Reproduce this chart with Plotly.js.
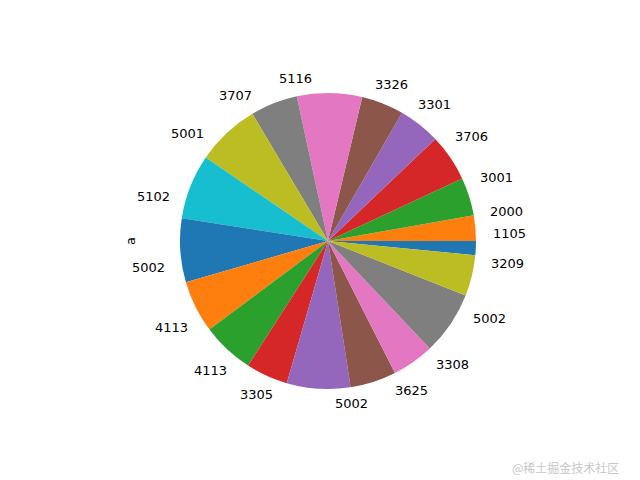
<!DOCTYPE html>
<html>
<head>
<meta charset="utf-8">
<script src="https://cdn.plot.ly/plotly-3.0.1.min.js"></script>
<style>
  body { margin: 0; background: #fff; }
  #chart { width: 640px; height: 480px; }
</style>
</head>
<body>
<div id="chart"></div>
<script>
// Series "a" values, in the order they are drawn (counterclockwise from 3 o'clock)
const values = [1105, 2000, 3001, 3706, 3301, 3326, 5116, 3707, 5001, 5102,
                5002, 4113, 4113, 3305, 5002, 3625, 3308, 5002, 3209];
const seriesName = 'a';

// matplotlib tab10 cycle
const tab10 = ['#1f77b4', '#ff7f0e', '#2ca02c', '#d62728', '#9467bd',
               '#8c564b', '#e377c2', '#7f7f7f', '#bcbd22', '#17becf'];

// labels must be unique or plotly merges the slices
const ids = values.map((v, i) => 'row' + i);
const colors = values.map((v, i) => tab10[i % tab10.length]);

// pie box in the page (pixels)
const W = 640, H = 480;
const cx = 328, cy = 241, R = 148;

var trace = {
  type: 'pie',
  labels: ids,
  values: values,
  textinfo: 'none',
  hoverinfo: 'none',
  sort: false,
  direction: 'counterclockwise',
  rotation: 90,
  marker: { colors: colors, line: { width: 0 } },
  domain: { x: [(cx - R) / W, (cx + R) / W], y: [1 - (cy + R) / H, 1 - (cy - R) / H] },
  showlegend: false,
};

// matplotlib style labels: 1.1 * radius along each wedge's middle angle
const total = values.reduce((a, b) => a + b, 0);
let cum = 0;
const labelNotes = values.map((v) => {
  const mid = (cum + v / 2) / total * 2 * Math.PI;
  cum += v;
  const x = Math.cos(mid), y = Math.sin(mid);
  return {
    text: String(v),
    x: (cx + 1.1 * R * x) / W,
    y: 1 - (cy - 1.1 * R * y) / H,
    xref: 'paper', yref: 'paper',
    xanchor: x > 0 ? 'left' : 'right',
    yanchor: 'middle',
    showarrow: false,
    font: { family: 'DejaVu Sans', size: 13, color: '#000' },
  };
});

var layout = {
  width: W,
  height: H,
  margin: { t: 0, b: 0, l: 0, r: 0 },
  paper_bgcolor: '#fff',
  font: { family: 'DejaVu Sans', size: 13, color: '#000' },
  annotations: labelNotes.concat([
    {
      text: seriesName,
      x: 130 / W, y: 1 - 241 / H,
      xref: 'paper', yref: 'paper',
      xanchor: 'center', yanchor: 'middle',
      textangle: -90,
      showarrow: false,
      font: { family: 'DejaVu Sans', size: 13, color: '#000' },
    },
    {
      text: '@稀土掘金技术社区',
      x: 621 / W, y: 1 - 467 / H,
      xref: 'paper', yref: 'paper',
      xanchor: 'right', yanchor: 'middle',
      showarrow: false,
      font: { family: 'Noto Sans CJK SC', size: 12, color: '#c8c8c8' },
    },
  ]),
};

var config = { displayModeBar: false, staticPlot: true };

Plotly.newPlot('chart', [trace], layout, config);
</script>
</body>
</html>
